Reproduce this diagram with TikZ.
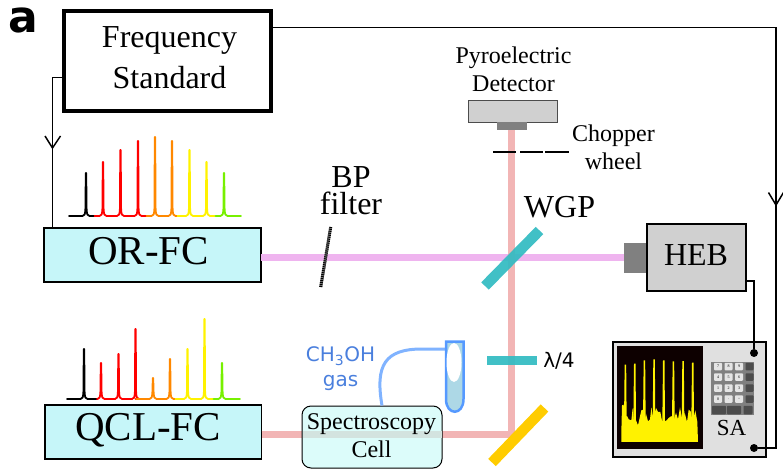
\documentclass[tikz,border=0pt]{standalone}
\usepackage{fontspec}
\setmainfont{Liberation Serif}
\newfontfamily\djv{DejaVu Sans}
\definecolor{boxcyan}{HTML}{C6F6F9}
\definecolor{pinkbeam}{HTML}{EFB4EF}
\definecolor{salmon}{HTML}{F2B5B5}
\definecolor{teal1}{HTML}{33BBC2}
\definecolor{gold1}{HTML}{FFCC00}
\definecolor{cellc}{HTML}{DCFCFA}
\definecolor{cellb}{HTML}{D3E3DF}
\definecolor{grey1}{HTML}{D0D0D0}
\definecolor{grey2}{HTML}{808080}
\definecolor{tubeb}{HTML}{5599FF}
\definecolor{hose}{HTML}{80B3FF}
\definecolor{tubef}{HTML}{ADD8E6}
\definecolor{gastext}{HTML}{4A7FDD}
\definecolor{orng}{HTML}{FF8800}
\definecolor{lgreen}{HTML}{77F000}
\tikzset{
  x=1pt,y=-1pt,
  box/.style={draw=black,rectangle,inner sep=0pt,outer sep=0pt,anchor=north west},
  wire/.style={draw=black,line width=1.5pt},
  beam/.style={line width=7pt},
  plate/.style={line width=10.5pt},
  txt/.style={inner sep=0pt,anchor=center,align=center},
  t32/.style={txt,font=\fontsize{32}{41}\selectfont},
  t41/.style={txt,font=\fontsize{41}{41}\selectfont},
  t24/.style={txt,font=\fontsize{24}{28}\selectfont},
  dotc/.style={circle,fill=black,inner sep=0pt,outer sep=0pt,minimum size=8pt},
  key/.style={fill=#1,draw=none,inner sep=0pt,minimum width=8pt,minimum height=7.5pt,rounded corners=.8pt,font=\fontsize{4}{4}\selectfont},
}
% \cpeak{x}{base}{top}{colour}{left half}{right half}
\newcommand{\cpeak}[6]{%
  \draw[#4,line width=1.8pt,line cap=round,line join=round]
    (#1-#5,#2) -- (#1-3.5,#2) .. controls (#1-1.5,#2) and (#1-.9,#2-1.5) .. (#1-.6,#2-7)
    -- (#1-.2,#3) -- (#1+.2,#3) -- (#1+.6,#2-7)
    .. controls (#1+.9,#2-1.5) and (#1+1.5,#2) .. (#1+3.5,#2) -- (#1+#6,#2);}
\begin{document}
\begin{tikzpicture}
\useasboundingbox (0,0) rectangle (783,468);

% label a
\node[inner sep=0pt,anchor=base,font=\djv\bfseries\fontsize{44}{44}\selectfont] (lbla) at (23,33) {a};

% main boxes
\node[box,line width=4pt,minimum width=207pt,minimum height=99pt] (fs) at (63.5,11.5) {};
\node[t32] (fst) at (169.5,57.5) {Frequency\\Standard};
\node[box,line width=1.5pt,fill=boxcyan,minimum width=217pt,minimum height=54pt] (orfc) at (44,228) {};
\node[t41] (orft) at (148.5,251) {OR-FC};
\node[box,line width=1.5pt,fill=boxcyan,minimum width=216.5pt,minimum height=54pt] (qclfc) at (45,405) {};
\node[t41] (qclt) at (148,430) {QCL-FC};

% HEB
\node[box,fill=grey2,draw=none,minimum width=23pt,minimum height=30pt] (hebw) at (624,243) {};
\node[box,line width=1.5pt,fill=grey1,minimum width=99pt,minimum height=67pt] (heb) at (647,224) {};
\node[t32] (hebt) at (696,255) {HEB};

% Detector
\node[box,draw=black!70,line width=1pt,fill=grey1,minimum width=89pt,minimum height=21pt] (det) at (468,101) {};
\node[box,fill=grey2,draw=none,minimum width=30pt,minimum height=8pt] (detw) at (497,122) {};
\node[t24] (dett) at (513.5,69) {Pyroelectric\\Detector};

% beams
\coordinate (corner) at (511,434);
\coordinate (cross) at (511,257);
\draw[beam,pinkbeam] (orfc.east |- cross) -- (cross) -- (hebw.west |- cross);
\draw[beam,salmon] (qclfc.east |- corner) -- (corner) -- (cross) -- (cross |- detw.south);

% chopper
\coordinate (ch1) at (493,152); \coordinate (ch2) at (516,152);
\coordinate (ch3) at (520,152); \coordinate (ch4) at (543,152);
\coordinate (ch5) at (545,152); \coordinate (ch6) at (569,152);
\draw[black,line width=1.5pt] (ch1) -- (ch2) (ch3) -- (ch4) (ch5) -- (ch6);
\node[t24] (chop) at (613.5,147.5) {Chopper\\wheel};

% optics
\coordinate (wgp1) at (485,286); \coordinate (wgp2) at (539.5,230.5);
\draw[plate,teal1,opacity=.93] (wgp1) -- (wgp2);
\node[t32] (wgpt) at (559.5,207) {WGP};
\coordinate (bp1) at (320.7,287); \coordinate (bp2) at (330.7,227);
\draw[grey2,line width=3pt] (bp1) -- (bp2);
\draw[black,line width=3pt,dash pattern=on 1pt off 1pt] (bp1) -- (bp2);
\node[txt,font=\fontsize{32}{27}\selectfont] (bpt) at (351,191) {BP\\filter};
\coordinate (lam1) at (487,360.5); \coordinate (lam2) at (537,360.5);
\draw[line width=9.5pt,teal1,opacity=.93] (lam1) -- (lam2);
\node[txt,font=\djv\fontsize{20}{24}\selectfont] (lamt) at (559,361) {λ/4};
\coordinate (gold1a) at (492,462.5); \coordinate (gold1b) at (544.5,408);
\draw[plate,gold1] (gold1a) -- (gold1b);

% cell
\node[box,line width=1pt,rounded corners=9pt,fill=cellc,minimum width=140pt,minimum height=62pt] (cell) at (302,406) {};
\fill[cellb] (302.5,430.5) rectangle (441.5,437.5);
\node[t24] (cellt) at (371.5,436) {Spectroscopy\\Cell};

% tube and hose
\coordinate (tubep) at (446,349);
\draw[hose,line width=3pt] (tubep) -- (422,349) .. controls (385,349) and (375,365) .. (382,405.5);
\draw[tubeb,line width=2.5pt,fill=tubef] (446,341.5) -- (463.5,341.5) -- (463.5,399) .. controls (463.5,416) and (446,416) .. (446,399) -- cycle;
\fill[white] (454,362.5) ellipse [x radius=7.5,y radius=19.5];
\node[txt,text=gastext,font=\djv\fontsize{20}{25}\selectfont] (gas) at (340.5,369) {CH\textsubscript{3}OH\\gas};

% SA
\node[box,line width=1.5pt,fill=black!12,minimum width=153pt,minimum height=115pt] (sa) at (613,342) {};
\node[box,draw=none,fill=black!95!red,minimum width=86pt,minimum height=103pt] (scr) at (617,346) {};
\begin{scope}[shift={(612,342)},x=.3333pt,y=-.3333pt]
\fill[yellow] (28,300) -- (28,270) -- (30,190) -- (35,188) -- (38,225) -- (45,222) -- (50,232) -- (58,235) -- (62,198) -- (66,240) -- (72,235) -- (78,250) -- (82,232) -- (88,205) -- (92,203) -- (97,240) -- (102,215) -- (108,238) -- (114,232) -- (118,196) -- (124,230) -- (132,198) -- (138,210) -- (145,210) -- (150,236) -- (158,238) -- (164,235) -- (170,228) -- (178,222) -- (186,232) -- (192,212) -- (198,232) -- (204,196) -- (212,240) -- (218,212) -- (225,240) -- (230,203) -- (236,208) -- (242,240) -- (250,205) -- (256,240) -- (258,300) -- cycle;
\foreach \xs/\ys in {40/68,68/65,97/55,126/52,155/55,184/58,213/57,242/62}
  \fill[yellow] (\xs-4,240) -- (\xs-2,\ys) -- (\xs+2.5,\ys) -- (\xs+4,240) -- cycle;
\end{scope}
\node[box,draw=none,fill=black!50,minimum width=43pt,minimum height=53pt] (pad) at (711,362) {};
\foreach \yy/\a/\b/\c in {366.5/7/8/9,377/4/5/6,388/1/2/3,399/0/./--}{
  \node[key=white!90!black] at (718,\yy) {\a};
  \node[key=white!90!black] at (728.5,\yy) {\b};
  \node[key=white!90!black] at (739,\yy) {\c};
  \node[key=black!70] at (749.5,\yy) {};
}
\node[key=black!70,minimum width=14pt,minimum height=8.5pt] at (719,410) {};
\node[key=black!70,minimum width=14pt,minimum height=8.5pt] at (734,410) {};
\node[key=black!70,minimum width=9pt,minimum height=8.5pt] at (748,410) {};
\node[txt,font=\fontsize{23}{23}\selectfont] (sat) at (731.5,428) {SA};
\node[dotc] (d1) at (754,353) {};
\node[dotc] (d2) at (754,448) {};

% wires
\coordinate (fsL) at (62,77.5);
\coordinate (tipL) at (52.5,148);
\draw[wire] (fsL) -- (52.5,77.5) -- (52.5,228);
\draw[wire] ([shift={(-7.5,-12)}]tipL) -- (tipL) -- ([shift={(8,-12)}]tipL);
\coordinate (fsR) at (272,27.5);
\coordinate (tipR) at (776,205);
\draw[wire] (fsR) -- (776,27.5) -- (776,448) -- (d2);
\draw[wire] ([shift={(-7.5,-12.5)}]tipR) -- (tipR) -- ([shift={(7.5,-12.5)}]tipR);
\coordinate (hebR) at (746,281);
\draw[wire] (hebR) -- (754,281) -- (d1);

% combs
\cpeak{86}{216}{173}{black}{17}{8.5}
\cpeak{103}{216}{162}{red}{8.5}{8.7}
\cpeak{120.5}{216}{150}{red}{8.7}{8.7}
\cpeak{138}{216}{141}{red}{8.7}{8.5}
\cpeak{155}{216}{137}{orng}{8.5}{8.5}
\cpeak{172}{216}{141}{orng}{8.5}{5}
\cpeak{189.5}{216}{150}{yellow}{12}{8.5}
\cpeak{206.5}{216}{162}{yellow}{8.5}{8.5}
\cpeak{224}{216}{173}{lgreen}{8.5}{17}
\cpeak{84}{399}{349}{black}{17}{13}
\cpeak{101}{399}{363}{red}{4}{8.7}
\cpeak{118.5}{399}{354}{red}{8.7}{8.5}
\cpeak{135.5}{399}{329}{red}{8.5}{0}
\cpeak{153}{399}{378}{orng}{17}{8.5}
\cpeak{170}{399}{359}{orng}{8.5}{5}
\cpeak{187.5}{399}{349}{yellow}{12}{8.5}
\cpeak{204.5}{399}{319}{yellow}{8.5}{8.5}
\cpeak{222}{399}{363}{lgreen}{8.5}{18}
\end{tikzpicture}
\end{document}
